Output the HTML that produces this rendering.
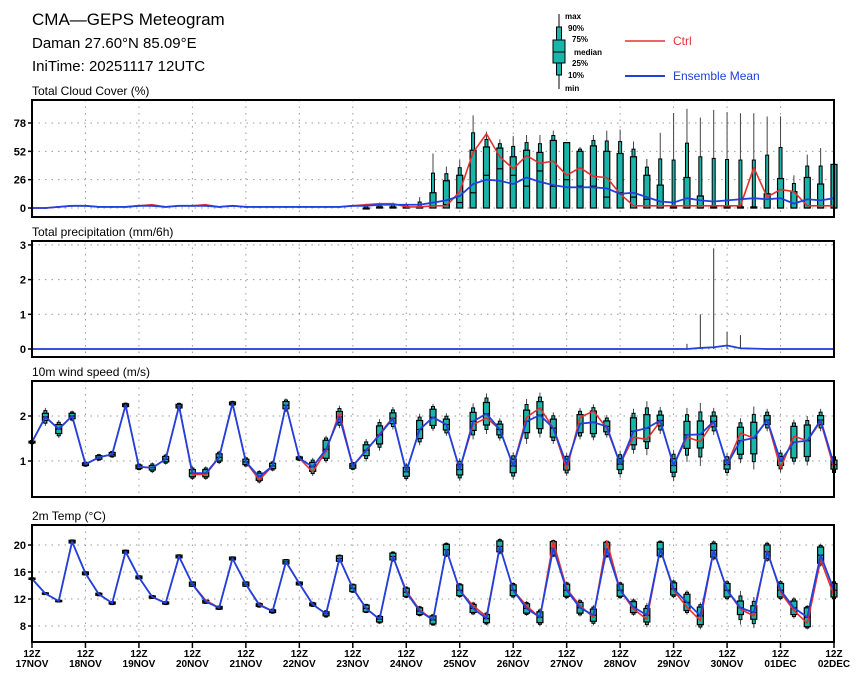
<!DOCTYPE html>
<html><head><meta charset="utf-8"><style>
body{margin:0;background:#fff}
svg{display:block;font-family:"Liberation Sans",sans-serif}
</style></head><body>
<svg id="c" width="860" height="679" viewBox="0 0 860 679">
<g>
<text x="32" y="25" font-size="17">CMA—GEPS Meteogram</text>
<text x="32" y="48" font-size="15">Daman 27.60°N 85.09°E</text>
<text x="32" y="71" font-size="15">IniTime: 20251117 12UTC</text>
</g>
<g font-size="8" font-weight="bold">
<line x1="559" y1="14" x2="559" y2="89" stroke="#000"/>
<rect x="556.5" y="27" width="5" height="48" fill="#1ab5aa" stroke="#000"/>
<rect x="553" y="40" width="12" height="23" fill="#1ab5aa" stroke="#000"/>
<line x1="553" y1="52" x2="565" y2="52" stroke="#000"/>
<text x="565" y="19">max</text><text x="568" y="31">90%</text><text x="572" y="42">75%</text>
<text x="574" y="55">median</text><text x="572" y="66">25%</text><text x="568" y="78">10%</text><text x="565" y="91">min</text>
<line x1="625" y1="41" x2="665" y2="41" stroke="#e53030" stroke-width="1.5"/>
<text x="673" y="45" fill="#e53030" font-size="12" font-weight="normal">Ctrl</text>
<line x1="625" y1="76" x2="665" y2="76" stroke="#2040e0" stroke-width="2"/>
<text x="673" y="80" fill="#2040e0" font-size="12" font-weight="normal">Ensemble Mean</text>
</g>
</svg>
<script>
const days=["17NOV","18NOV","19NOV","20NOV","21NOV","22NOV","23NOV","24NOV","25NOV","26NOV","27NOV","28NOV","29NOV","30NOV","01DEC","02DEC"];
const cloudMean=[0,0,1,2,2,1,1,1,2,2,1,2,2,2,1,2,1,1,1,1,1,1,1,1,2,2,3,3,3,3,5,7,11,22,26,25,22,28,24,21,19,19,19,18,13,14,10,6,5,9,7,6,7,8,9,8,9,4,8,7,9];
const cloudCtrl=[0,0,1,2,2,1,1,1,2,3,1,2,2,3,1,2,1,1,1,1,1,1,1,1,2,3,4,4,1,1,2,2,15,51,68,47,36,48,41,43,30,37,29,28,13,2,2,2,2,2,2,2,2,2,37,10,17,15,2,2,2];
const cloudQ75=[0,0,0,0,0,0,0,0,0,0,0,0,0,0,0,0,0,0,0,0,0,0,0,0,0,0,1,1,1,1,14,25,30,53,56,55,47,53,51,62,60,52,57,52,50,47,30,21,1,28,11,1,1,1,1,13,27,15,28,22,40];
const cloudMed=[0,0,0,0,0,0,0,0,0,0,0,0,0,0,0,0,0,0,0,0,0,0,0,0,0,0,0,0,0,0,2,3,5,14,30,36,30,20,34,20,26,20,20,10,14,10,8,2,0,0,0,0,0,0,0,0,0,0,0,0,0];
const cloudMax=[0,0,1,2,2,1,2,2,3,3,2,3,3,3,2,3,2,2,2,2,2,2,2,2,3,4,5,5,5,10,50,38,44,85,70,63,66,67,67,71,60,56,67,71,72,61,45,69,87,91,83,90,88,87,87,84,84,30,49,55,40];
const precipMean=[0,0,0,0,0,0,0,0,0,0,0,0,0,0,0,0,0,0,0,0,0,0,0,0,0,0,0,0,0,0,0,0,0,0,0,0,0,0,0,0,0,0,0,0,0,0,0,0,0,0,0.03,0.05,0.1,0.02,0.01,0,0,0,0,0,0];
const precipMax=[0,0,0,0,0,0,0,0,0,0,0,0,0,0,0,0,0,0,0,0,0,0,0,0,0,0,0,0,0,0,0,0,0,0,0,0,0,0,0,0,0,0,0,0,0,0,0,0,0,0.15,1.0,2.9,0.5,0.4,0,0,0,0,0,0,0];
const windMean=[1.42,1.98,1.71,2.0,0.93,1.08,1.15,2.24,0.87,0.85,1.04,2.22,0.73,0.73,1.08,2.28,0.98,0.65,0.89,2.24,1.06,0.87,1.26,1.98,0.89,1.24,1.58,1.95,0.76,1.70,1.97,1.81,0.81,1.88,2.05,1.70,0.89,1.88,2.02,1.73,0.92,1.83,1.86,1.77,0.93,1.66,1.73,1.90,0.90,1.58,1.59,1.88,0.92,1.45,1.51,1.91,1.0,1.42,1.45,1.91,0.92];
const windCtrl=[1.42,1.98,1.71,2.0,0.93,1.08,1.15,2.24,0.87,0.85,1.04,2.22,0.70,0.70,1.08,2.28,0.98,0.58,0.89,2.24,1.06,0.76,1.22,2.07,0.89,1.22,1.60,1.97,0.76,1.70,1.97,1.81,0.81,1.81,1.96,1.70,0.89,1.97,2.18,1.73,0.81,1.97,2.11,1.73,0.93,1.53,1.48,1.88,0.90,1.53,1.43,1.88,0.92,1.62,1.51,1.91,0.84,1.55,1.45,1.88,0.84];
const windIqr=[0.02,0.08,0.1,0.06,0.03,0.04,0.04,0.03,0.04,0.05,0.06,0.04,0.08,0.08,0.08,0.03,0.06,0.08,0.06,0.08,0.03,0.1,0.2,0.12,0.05,0.12,0.2,0.12,0.1,0.2,0.18,0.12,0.12,0.2,0.25,0.12,0.15,0.25,0.3,0.2,0.12,0.2,0.25,0.12,0.12,0.3,0.3,0.12,0.15,0.3,0.3,0.12,0.1,0.3,0.35,0.1,0.1,0.35,0.35,0.1,0.1];
const windWhisk=[0.05,0.2,0.2,0.12,0.06,0.08,0.08,0.06,0.08,0.12,0.12,0.08,0.15,0.15,0.15,0.06,0.12,0.15,0.12,0.15,0.06,0.2,0.3,0.25,0.1,0.25,0.35,0.25,0.2,0.35,0.3,0.25,0.25,0.4,0.45,0.25,0.3,0.5,0.5,0.35,0.25,0.35,0.4,0.25,0.3,0.5,0.6,0.3,0.35,0.6,0.7,0.3,0.25,0.5,0.7,0.25,0.25,0.5,0.55,0.25,0.25];
const tempMean=[15,12.8,11.7,20.5,15.8,12.7,11.4,19,15.2,12.3,11.4,18.3,14.2,11.6,10.7,18,14.2,11.1,10.2,17.5,14.3,11.2,9.8,18,13.6,10.6,9,18.3,13,10.2,8.9,19.3,13.3,10.6,9.1,19.8,13.3,10.6,9.3,19.5,13.3,10.7,9.6,19.4,13.3,10.8,9.6,19.4,13.5,11.5,9.5,19.2,13.3,10.7,10.0,19,13.3,10.7,9.3,18.5,13.3];
const tempCtrl=[15,12.8,11.7,20.5,15.8,12.7,11.4,19,15.2,12.3,11.4,18.3,14.2,11.8,10.7,18,14.2,11.2,10.2,17.5,14.3,11.2,9.8,18,13.6,10.6,9,18.3,13.2,10.4,8.9,19.3,13.3,11,9.4,19.8,13.3,11,9.2,20.5,13.5,11,9.3,20.6,13.3,10.5,9.0,19.4,13.3,10.8,8.8,19.2,13.3,10.5,9.5,19.2,13.0,10.3,8.4,17.8,12.5];
const tempIqr=[0.1,0.1,0.1,0.2,0.2,0.15,0.15,0.2,0.2,0.15,0.15,0.2,0.3,0.2,0.2,0.2,0.3,0.2,0.2,0.3,0.2,0.2,0.3,0.4,0.5,0.5,0.4,0.5,0.6,0.5,0.6,0.8,0.8,0.6,0.6,0.8,0.8,0.7,0.8,1.0,0.9,0.8,0.9,1.0,0.9,0.8,1.0,1.0,0.9,1.2,1.3,1.0,1.0,1.0,1.0,1.0,1.0,1.0,1.4,1.2,1.0];
const tempWhisk=[0.2,0.2,0.2,0.3,0.3,0.3,0.3,0.3,0.3,0.3,0.3,0.3,0.4,0.3,0.3,0.3,0.4,0.4,0.4,0.4,0.3,0.4,0.6,0.6,0.7,0.7,0.7,0.8,0.9,0.8,0.9,1.1,1.1,1.0,1.0,1.2,1.2,1.1,1.3,1.3,1.3,1.3,1.5,1.3,1.3,1.3,1.8,1.3,1.4,1.8,2.0,1.5,1.5,2.5,2.3,1.5,1.5,1.6,1.8,1.7,1.5];
const cloudTicks=[0,26,52,78], precipTicks=[0,1,2,3], windTicks=[1,2], tempTicks=[8,12,16,20];

const NS="http://www.w3.org/2000/svg", svg=document.getElementById('c');
const X0=32,X1=834,N=60;
const xs=i=>X0+i*(X1-X0)/N;
function el(t,a,p){const e=document.createElementNS(NS,t);for(const k in a)e.setAttribute(k,a[k]);(p||svg).appendChild(e);return e;}
const panels=[
 {name:'cloud',title:'Total Cloud Cover (%)',top:100,bot:217,y:v=>208-v*85/78,ticks:cloudTicks},
 {name:'precip',title:'Total precipitation (mm/6h)',top:241,bot:357,y:v=>349-v*34.7,ticks:precipTicks},
 {name:'wind',title:'10m wind speed (m/s)',top:381,bot:497,y:v=>461-(v-1)*45,ticks:windTicks},
 {name:'temp',title:'2m Temp (°C)',top:525,bot:642,y:v=>626-(v-8)*6.75,ticks:tempTicks}];
function box(g,x,ymin,y10,y25,ymed,y75,y90,ymax){
 const w=el('line',{x1:x,x2:x,y1:ymax,y2:ymin,stroke:'#444','stroke-width':1},g);
 
 
 const r1=el('rect',{x:x-1.5,y:Math.min(y90,y10),width:3,height:Math.abs(y10-y90),fill:'#1ab5aa',stroke:'#000','stroke-width':1},g);
 
 
 const r=el('rect',{x:x-3,y:Math.min(y75,y25),width:6,height:Math.max(1,Math.abs(y25-y75)),fill:'#1ab5aa',stroke:'#000','stroke-width':1.2},g);
 
 
 el('line',{x1:x-3,x2:x+3,y1:ymed,y2:ymed,stroke:'#000','stroke-width':1.2},g);
}
function line(g,arr,y,col,w,name){
 const p=el('polyline',{points:arr.map((v,i)=>xs(i)+','+y(v)).join(' '),fill:'none',stroke:col,'stroke-width':w,'stroke-linejoin':'round'},g);
 
 
}
panels.forEach((P,pi)=>{
 const g=el('g',{});
 
 
 const t=el('text',{x:32,y:P.top-5,'font-size':12},g);t.textContent=P.title;
 
 
 for(let d=1;d<15;d++)el('line',{x1:xs(d*4),x2:xs(d*4),y1:P.top,y2:P.bot,stroke:'#999','stroke-dasharray':'1.5,5'},g);
 P.ticks.forEach(v=>{const yy=P.y(v);
  el('line',{x1:X0,x2:X1,y1:yy,y2:yy,stroke:'#999','stroke-dasharray':'1.5,5'},g);
  el('line',{x1:X0-4,x2:X0,y1:yy,y2:yy,stroke:'#000','stroke-width':1.5},g);
  const tl=el('text',{x:X0-6,y:yy+4,'font-size':11,'font-weight':'bold','text-anchor':'end'},g);tl.textContent=v;
  
  });
 if(P.name==='cloud'){
  for(let i=0;i<=N;i++){const y=P.y;
   if(cloudMax[i]<=3){const m=el('line',{x1:xs(i)-2,x2:xs(i)+2,y1:y(cloudMean[i]),y2:y(cloudMean[i]),stroke:'#222','stroke-width':1.5},g);
    
    continue;}
   box(g,xs(i),y(0),y(0),y(0),y(cloudMed[i]),y(cloudQ75[i]),y((cloudQ75[i]+cloudMax[i])/2),y(cloudMax[i]));}
  line(g,cloudCtrl,P.y,'#e53030',1.6,'cloud-ctrl-line');line(g,cloudMean,P.y,'#2040e0',1.8,'cloud-mean-line');
 } else if(P.name==='precip'){
  for(let i=0;i<=N;i++)if(precipMax[i]>0){const l=el('line',{x1:xs(i),x2:xs(i),y1:P.y(0),y2:P.y(precipMax[i]),stroke:'#333'},g);
   
   }
  line(g,precipMean,P.y,'#e53030',1.2,'precip-ctrl-line');line(g,precipMean,P.y,'#2040e0',1.8,'precip-mean-line');
 } else {
  const m=P.name==='wind'?windMean:tempMean,c=P.name==='wind'?windCtrl:tempCtrl,q=P.name==='wind'?windIqr:tempIqr,wk=P.name==='wind'?windWhisk:tempWhisk,y=P.y;
  for(let i=0;i<=N;i++)box(g,xs(i),y(m[i]-wk[i]),y(m[i]-(q[i]+wk[i])/2),y(m[i]-q[i]),y(m[i]),y(m[i]+q[i]),y(m[i]+(q[i]+wk[i])/2),y(m[i]+wk[i]));
  line(g,c,y,'#e53030',1.6,P.name+'-ctrl-line');line(g,m,y,'#2040e0',1.8,P.name+'-mean-line');
 }
 el('rect',{x:X0,y:P.top,width:X1-X0,height:P.bot-P.top,fill:'none',stroke:'#000','stroke-width':2},g);
});
const ax=el('g',{'font-size':10,'font-weight':'bold','text-anchor':'middle'});


days.forEach((d,k)=>{const x=xs(k*4);
 el('line',{x1:x,x2:x,y1:642,y2:648,stroke:'#000','stroke-width':1.5},ax);
 const a=el('text',{x:x,y:657},ax);a.textContent='12Z';
 const b=el('text',{x:x,y:667},ax);b.textContent=d;
 
 });
</script>
</body></html>
